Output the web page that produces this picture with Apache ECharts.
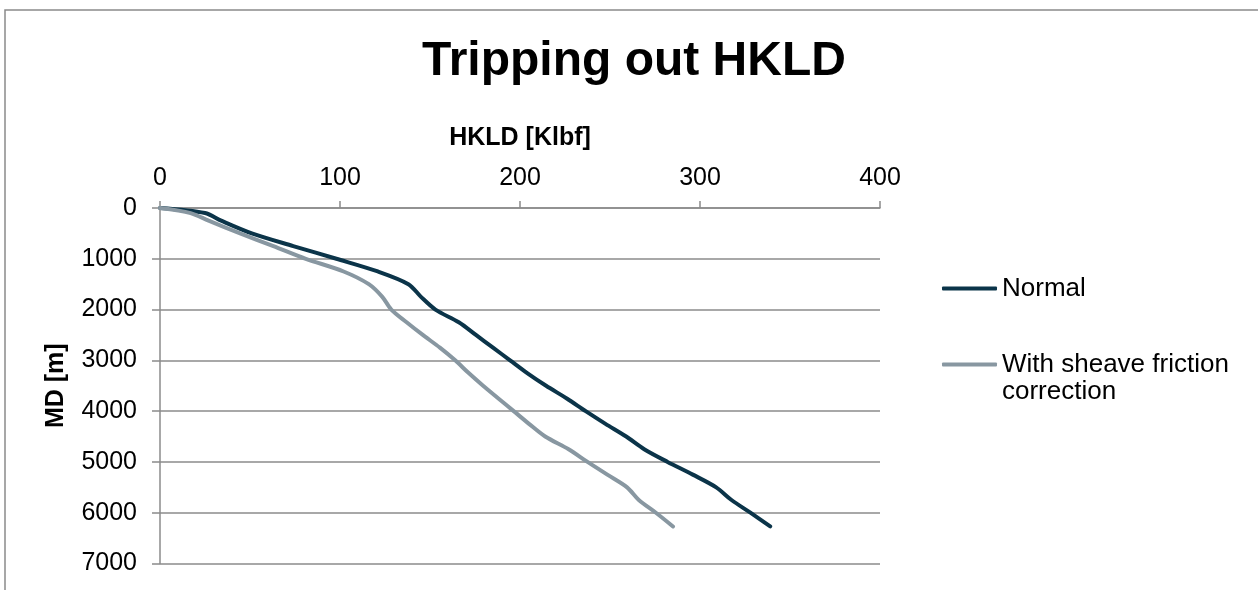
<!DOCTYPE html>
<html>
<head>
<meta charset="utf-8">
<title>Tripping out HKLD</title>
<script src="https://cdn.jsdelivr.net/npm/echarts@6/dist/echarts.min.js"></script>
<style>
  html, body { margin: 0; padding: 0; background: #ffffff; }
  #chart { width: 1258px; height: 590px; }
</style>
</head>
<body>
<div id="chart"></div>
<script>
// Measured depth along the string [m]
const md = [0, 100, 250, 500, 750, 1000, 1250, 1500, 1750, 2000, 2250, 2500, 2750,
  3000, 3250, 3500, 3750, 4000, 4250, 4500, 4750, 5000, 5250, 5500, 5750, 6000, 6270];

// Hook load while tripping out [Klbf]
const hkldNormal = [0, 25, 34, 51, 74, 98, 121, 138, 145, 153, 166, 175.5, 185,
  194.5, 204, 214.5, 226, 236.5, 247.5, 259, 269, 282, 296, 309, 317.5, 328, 339];
const hkldSheave = [0, 17, 27, 44.5, 63, 81, 102, 116, 123.5, 128.5, 137, 146, 155.5,
  164, 171.5, 179.5, 188, 196.5, 205, 214, 227, 237.5, 248.5, 259.5, 266, 275.5, 285];

const seriesNames = ['Normal', 'With sheave friction correction'];
const xTicks = [0, 100, 200, 300, 400];
const yTicks = [0, 1000, 2000, 3000, 4000, 5000, 6000, 7000];

const toPairs = (xs) => xs.map((x, i) => [x, md[i]]);

const FONT = '"Liberation Sans", Arial, sans-serif';
const GRID_GRAY = '#8b8b8b';
const NORMAL_COLOR = '#0b3449';
const SHEAVE_COLOR = '#8897a1';

const chart = echarts.init(document.getElementById('chart'), null, { renderer: 'canvas' });

const legendBase = {
  orient: 'vertical',
  left: 942,
  padding: 0,
  itemWidth: 55,
  itemHeight: 4,
  itemGap: 5,
  icon: 'roundRect',
  selectedMode: false
};

chart.setOption({
  animation: false,
  backgroundColor: '#ffffff',
  textStyle: { fontFamily: FONT },
  title: {
    text: 'Tripping out HKLD',
    left: 422,
    top: 38,
    padding: 0,
    textStyle: { fontFamily: FONT, fontSize: 48, fontWeight: 'bold', color: '#000000' }
  },
  graphic: [{
    type: 'rect',
    silent: true,
    shape: { x: 5, y: 10, width: 1300, height: 700 },
    style: { fill: null, stroke: '#8a8a8a', lineWidth: 1.5 }
  }],
  grid: { left: 160, right: 378, top: 208, bottom: 26.5, containLabel: false },
  xAxis: {
    type: 'value',
    position: 'top',
    min: xTicks[0],
    max: xTicks[xTicks.length - 1],
    interval: xTicks[1] - xTicks[0],
    name: 'HKLD [Klbf]',
    nameLocation: 'middle',
    nameGap: 57,
    nameTextStyle: { fontFamily: FONT, fontSize: 25, fontWeight: 'bold', color: '#000000' },
    axisLine: { show: true, onZero: false, lineStyle: { color: GRID_GRAY, width: 1.5 } },
    axisTick: { show: true, inside: false, length: 7, lineStyle: { color: GRID_GRAY, width: 1.5 } },
    axisLabel: { fontFamily: FONT, fontSize: 25, color: '#000000', margin: 17, formatter: (v) => String(v) },
    splitLine: { show: false }
  },
  yAxis: {
    type: 'value',
    inverse: true,
    min: yTicks[0],
    max: yTicks[yTicks.length - 1],
    interval: yTicks[1] - yTicks[0],
    name: 'MD [m]',
    nameLocation: 'middle',
    nameGap: 91,
    nameRotate: 90,
    nameTextStyle: { fontFamily: FONT, fontSize: 25, fontWeight: 'bold', color: '#000000' },
    axisLine: { show: true, onZero: false, lineStyle: { color: GRID_GRAY, width: 1.5 } },
    axisTick: { show: true, inside: false, length: 8, lineStyle: { color: GRID_GRAY, width: 1.5 } },
    axisLabel: { fontFamily: FONT, fontSize: 25, color: '#000000', margin: 23, formatter: (v) => String(v) },
    splitLine: { show: true, lineStyle: { color: GRID_GRAY, width: 1.5 } }
  },
  legend: [Object.assign({}, legendBase, {
    data: [seriesNames[0]],
    top: 275,
    textStyle: { fontFamily: FONT, fontSize: 26, lineHeight: 27, color: '#000000' }
  }), Object.assign({}, legendBase, {
    data: [seriesNames[1]],
    top: 324,
    // the icon sits beside the first line of the wrapped label
    formatter: () => ' \nWith sheave friction\ncorrection',
    textStyle: { fontFamily: FONT, fontSize: 26, lineHeight: 27, color: '#000000' }
  })],
  series: [{
    name: seriesNames[0],
    type: 'line',
    data: toPairs(hkldNormal),
    showSymbol: false,
    symbol: 'none',
    smooth: 0.3,
    color: NORMAL_COLOR,
    lineStyle: { color: NORMAL_COLOR, width: 4, cap: 'round', join: 'round' }
  }, {
    name: seriesNames[1],
    type: 'line',
    data: toPairs(hkldSheave),
    showSymbol: false,
    symbol: 'none',
    smooth: 0.3,
    color: SHEAVE_COLOR,
    lineStyle: { color: SHEAVE_COLOR, width: 4, cap: 'round', join: 'round' }
  }]
});
</script>
</body>
</html>
